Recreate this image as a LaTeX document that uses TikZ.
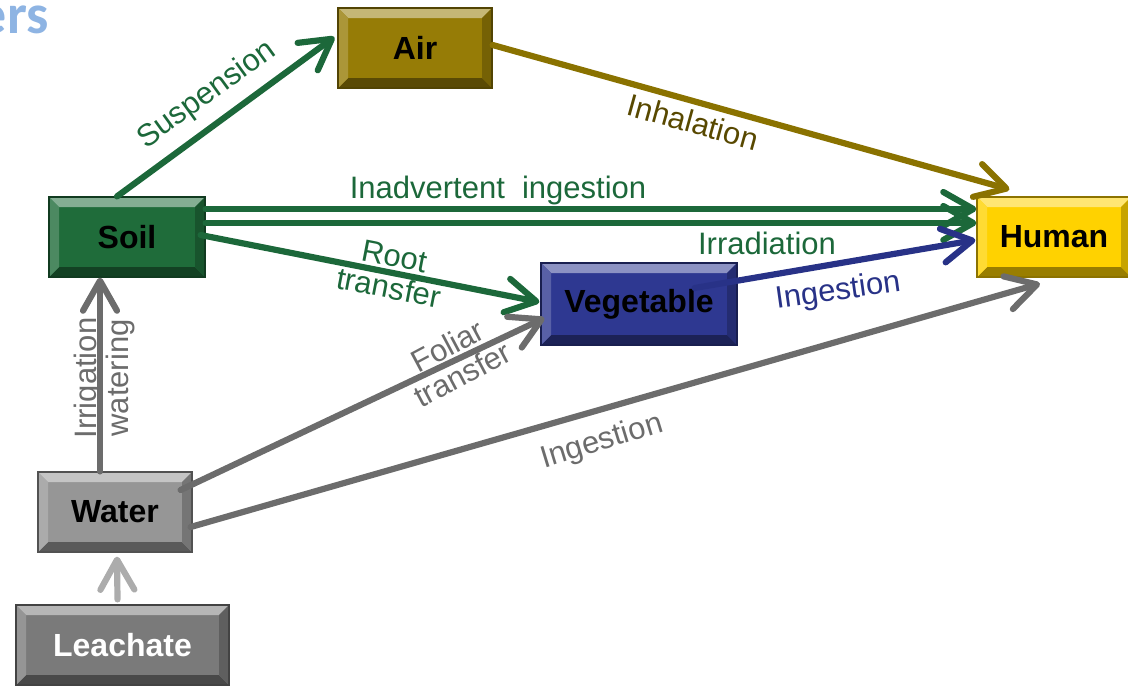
\documentclass[tikz,border=0pt]{standalone}
\usepackage{fontspec}
\setmainfont{Liberation Sans}
\newfontfamily\titlefont{Carlito}
\usetikzlibrary{arrows.meta, calc}

\definecolor{airc}{RGB}{150,124,6}
\definecolor{soilc}{RGB}{31,108,58}
\definecolor{vegc}{RGB}{46,56,145}
\definecolor{humanc}{RGB}{255,210,0}
\definecolor{waterc}{RGB}{150,150,150}
\definecolor{leachc}{RGB}{122,122,122}
\definecolor{greenarr}{RGB}{28,104,58}
\definecolor{olivearr}{RGB}{138,114,0}
\definecolor{bluearr}{RGB}{40,50,135}
\definecolor{grayarr}{RGB}{108,108,108}
\definecolor{lightarr}{RGB}{172,172,172}
\definecolor{olivelbl}{RGB}{88,72,0}
\definecolor{titleblue}{RGB}{142,180,227}

\begin{document}
\begin{tikzpicture}[x=0.5pt, y=-0.5pt,
box/.style = {rectangle, fill=#1, draw=#1!55!black, line width=0.6pt,
              minimum height=40pt, inner sep=0pt,
              font=\fontsize{16}{18}\selectfont\bfseries,
              path picture={
  \fill[#1!55!white] (path picture bounding box.north west) -- (path picture bounding box.north east)
    -- ([shift={(-5pt,-5pt)}]path picture bounding box.north east) -- ([shift={(5pt,-5pt)}]path picture bounding box.north west) -- cycle;
  \fill[#1!60!black] (path picture bounding box.south west) -- (path picture bounding box.south east)
    -- ([shift={(-5pt,5pt)}]path picture bounding box.south east) -- ([shift={(5pt,5pt)}]path picture bounding box.south west) -- cycle;
  \fill[#1!78!black] (path picture bounding box.north east) -- (path picture bounding box.south east)
    -- ([shift={(-5pt,5pt)}]path picture bounding box.south east) -- ([shift={(-5pt,-5pt)}]path picture bounding box.north east) -- cycle;
  \fill[#1!80!white] (path picture bounding box.north west) -- (path picture bounding box.south west)
    -- ([shift={(5pt,5pt)}]path picture bounding box.south west) -- ([shift={(5pt,-5pt)}]path picture bounding box.north west) -- cycle;
  }},
lbl/.style = {font=\fontsize{15.5}{16}\selectfont, align=center, inner sep=0pt},
flow/.style = {line width=3.1pt, line cap=round, line join=round,
               -{Straight Barb[length=15pt, width=17pt, round]}}]
\useasboundingbox (0,0) rectangle (1128,686);
\clip (0,0) rectangle (1128,686);

% title remainder
\node[anchor=base east, inner sep=0pt, text=titleblue, font=\titlefont\fontsize{28}{30}\selectfont\bfseries] (title) at (49,33) {ers};

% compartments
\node[box=airc, minimum width=77pt] (air) at (415,48) {Air};
\node[box=soilc, minimum width=78pt] (soil) at (127,237) {Soil};
\node[box=humanc, minimum width=77pt] (human) at (1054,237) {Human};
\node[box=vegc, minimum width=98pt, minimum height=41pt] (veg) at (639,304) {Vegetable};
\node[box=waterc, minimum width=77pt] (water) at (115,512) {Water};
\node[box=leachc, minimum width=106.5pt, text=white] (leach) at (122.5,645) {Leachate};

% pathways
\draw[flow, color=greenarr] ($(soil.north)+(-10,0)$) -- ($(air.west)+(-3,-11)$);
\draw[flow, color=olivearr] ($(air.east)+(0,-3)$) -- ($(human.north west)+(33,-7)$);
\draw[flow, color=greenarr] ($(soil.east)+(0,-28)$) -- ($(human.west)+(0,-28)$);
\draw[flow, color=greenarr] ($(soil.east)+(0,-14)$) -- ($(human.west)+(0,-14)$);
\draw[flow, color=greenarr] ($(soil.east)+(-5,-2)$) -- ($(veg.west)+(-1,-2)$);
\draw[flow, color=bluearr] ($(veg.east)+(-43,-16)$) -- ($(human.west)+(-1,3)$);
\draw[flow, color=grayarr] ($(water.east)+(-12,-22)$) -- ($(veg.west)+(4,14)$);
\draw[flow, color=grayarr] ($(water.east)+(-2,15)$) -- ($(human.south)+(-14,6)$);
\draw[flow, color=grayarr] ($(water.north)+(-15,0)$) -- ($(soil.south)+(-27,0)$);
\draw[flow, color=lightarr] ($(leach.north)+(-5,-5)$) -- ($(water.south)+(2,4)$);

% labels
\node[lbl, text=greenarr, rotate=36] (suspLbl) at (207,95) {Suspension};
\node[lbl, text=olivelbl, rotate=-15.5] (inhalLbl) at (693,122) {Inhalation};
\node[lbl, text=greenarr] (inadvLbl) at (498,190) {Inadvertent\ \ ingestion};
\node[lbl, text=greenarr] (irradLbl) at (767,243) {Irradiation};
\node[lbl, text=greenarr, rotate=-11] (rootLbl) at (392,272) {Root\\transfer};
\node[lbl, text=bluearr, rotate=8] (vegIngLbl) at (838,292) {Ingestion};
\node[lbl, text=grayarr, rotate=28] (foliarLbl) at (455,360) {Foliar\\transfer};
\node[lbl, text=grayarr, rotate=17] (waterIngLbl) at (602,442) {Ingestion};
\node[lbl, text=grayarr, rotate=90] (irrigLbl) at (104,378) {Irrigation\\watering};
\end{tikzpicture}
\end{document}
